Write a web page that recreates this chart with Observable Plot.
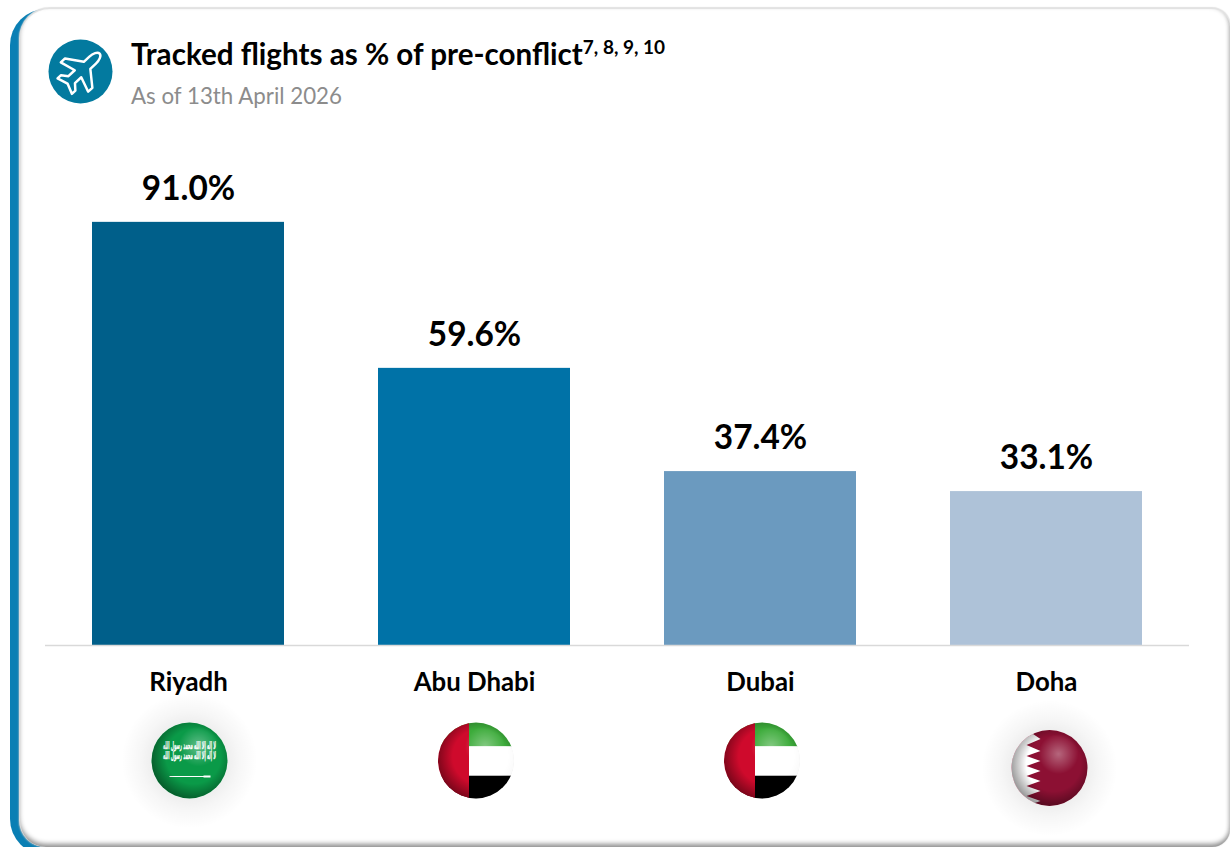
<!DOCTYPE html>
<html>
<head>
<meta charset="utf-8">
<script src="https://cdn.jsdelivr.net/npm/d3@7"></script>
<script src="https://cdn.jsdelivr.net/npm/@observablehq/plot@0.6"></script>
<style>
  html, body { margin: 0; padding: 0; background: #fff; }
  #page { position: relative; width: 1230px; height: 847px; overflow: hidden; font-family: Lato, "Open Sans", sans-serif; }
  #accent { position: absolute; left: 10px; top: 9px; width: 36px; height: 846px; background: #0a7fb4; border-radius: 36px 0 0 36px; }
  #card { position: absolute; left: 20px; top: 9px; width: 1210px; height: 838px; background: #fff; border-radius: 30px 18px 18px 26px;
          box-shadow: 0 -1px 1px 1px #e2e2e2, -1px 0 2px #c4c4c4, inset 0 -4px 5px -1px #8f8f8f, inset -3px 0 4px -2px #d0d0d0; }
  #badge { position: absolute; left: 48px; top: 39px; width: 65px; height: 65px; }
  #title { position: absolute; left: 131px; top: 36px; font-size: 29.6px; font-weight: 700; color: #000; line-height: 36px; white-space: nowrap; }
  #title sup { font-size: 19px; line-height: 0; vertical-align: 11px; }
  #subtitle { position: absolute; left: 131px; top: 82px; font-size: 22.3px; color: #8c8c8c; line-height: 28px; white-space: nowrap; }
  #chart { position: absolute; left: 0; top: 0; }
  #chart svg { background: transparent; display: block; }
</style>
</head>
<body>
<div id="page">
  <div id="accent"></div>
  <div id="card"></div>
  <svg id="badge" viewBox="-33 -33 66 66">
    <circle r="32.5" fill="#037a9f"></circle>
    <path transform="translate(1,-1) rotate(47) scale(0.97)"
      d="M0,-26C3,-26 5,-21 5,-16L5,-8L21,4L21,10L5,5L5,14L11,19L11,24L0,20L-11,24L-11,19L-5,14L-5,5L-21,10L-21,4L-5,-8L-5,-16C-5,-21 -3,-26 0,-26Z"
      fill="none" stroke="#fff" stroke-width="2.6" stroke-linejoin="round"></path>
  </svg>
  <div id="title">Tracked flights as % of pre-conflict<sup>7, 8, 9, 10</sup></div>
  <div id="subtitle">As of 13th April 2026</div>
  <div id="chart"></div>
</div>
<script>
// Share of pre-conflict flight traffic by city
const cities = ["Riyadh", "Abu Dhabi", "Dubai", "Doha"];
const shares = [91.0, 59.6, 37.4, 33.1];
const barColors = ["#005f8a", "#0072a7", "#6b9abf", "#aec2d8"];
const rows = cities.map((city, i) => ({city, share: shares[i], color: barColors[i]}));

// Glossy ball shading shared by every flag badge
const shading = `
  <radialGradient id="glint" gradientUnits="userSpaceOnUse" cx="89" cy="66" r="20">
    <stop offset="0" stop-color="#fff" stop-opacity="0.36"/>
    <stop offset="1" stop-color="#fff" stop-opacity="0"/>
  </radialGradient>
  <radialGradient id="rim" gradientUnits="userSpaceOnUse" cx="84" cy="76" r="44">
    <stop offset="0.62" stop-color="#000" stop-opacity="0"/>
    <stop offset="1" stop-color="#000" stop-opacity="0.42"/>
  </radialGradient>
  <radialGradient id="haloFill" gradientUnits="userSpaceOnUse" cx="80" cy="80" r="68">
    <stop offset="0.5" stop-color="#000" stop-opacity="0.075"/>
    <stop offset="0.72" stop-color="#000" stop-opacity="0.035"/>
    <stop offset="1" stop-color="#000" stop-opacity="0"/>
  </radialGradient>
  <clipPath id="ball"><circle cx="80" cy="80" r="38"/></clipPath>`;

const saudi = `
  <rect x="30" y="30" width="100" height="100" fill="#0a9a48"/>
  <g font-family="DejaVu Sans" font-weight="bold" fill="#fff" stroke="#fff" stroke-width="0.25" text-anchor="middle">
    <text x="80" y="68" font-size="11" textLength="53" lengthAdjust="spacingAndGlyphs">لا إله إلا الله محمد رسول الله</text>
    <text x="80" y="78" font-size="11" textLength="53" lengthAdjust="spacingAndGlyphs">لا إله إلا الله محمد رسول الله</text>
  </g>
  <path d="M60,96H98" stroke="#fff" stroke-width="1.1"/><path d="M94,95h7v2h-7z" fill="#fff"/>`;

const uae = `
  <rect x="30" y="30" width="100" height="36" fill="#3cab3a"/>
  <rect x="30" y="66" width="100" height="29" fill="#fff"/>
  <rect x="30" y="95" width="100" height="35" fill="#000"/>
  <rect x="30" y="30" width="43" height="100" fill="#cf0a2c"/>`;

const qatar = `
  <rect x="30" y="30" width="100" height="100" fill="#8c1033"/>
  <path d="M30,30H62V45L71,51L57,57L71,63L57,68L71,73L57,78L71,83L57,88L71,93L57,98L71,103L57,108L71,113L57,118L66,124V130H30Z" fill="#fff"/>`;

// The white band of the UAE flag stays bright up to the ball's edge
const uaeTop = `<rect x="73" y="66" width="57" height="29" fill="#fff" fill-opacity="0.9"/>`;

// Each flag becomes a small standalone SVG placed by Plot.image
const flagImage = (art, halo, top = "") => "data:image/svg+xml;charset=utf-8," + encodeURIComponent(
  `<svg xmlns="http://www.w3.org/2000/svg" width="160" height="160" viewBox="0 0 160 160"><defs>${shading}</defs>
   ${halo ? '<circle cx="80" cy="80" r="68" fill="url(#haloFill)"/>' : ""}
   <g clip-path="url(#ball)">${art}<circle cx="80" cy="80" r="38" fill="url(#rim)"/>${top}<circle cx="80" cy="80" r="38" fill="url(#glint)"/></g></svg>`);

const flags = [
  {city: "Riyadh", src: flagImage(saudi, true), dx: 1, dy: 115},
  {city: "Abu Dhabi", src: flagImage(uae, false, uaeTop), dx: 1.5, dy: 115},
  {city: "Dubai", src: flagImage(uae, false, uaeTop), dx: 1.5, dy: 115},
  {city: "Doha", src: flagImage(qatar, true), dx: 3, dy: 122.5}
];

const chart = Plot.plot({
  width: 1230,
  height: 847,
  marginLeft: 45,
  marginRight: 41,
  marginTop: 180,
  marginBottom: 202,
  style: {fontFamily: "Lato, 'Open Sans', sans-serif", background: "transparent"},
  x: {domain: cities, paddingInner: 0.3287, paddingOuter: 0.1643, label: null},
  y: {domain: [0, 100], axis: null},
  marks: [
    Plot.barY(rows, {x: "city", y: "share", fill: "color"}),
    Plot.ruleY([0], {stroke: "#d9d9d9", strokeWidth: 1.5}),
    Plot.text(rows, {x: "city", y: "share", text: d => d.share.toFixed(1) + "%", dy: -33.5,
      fontSize: 33.4, fontWeight: 700, fill: "#000"}),
    Plot.axisX({tickSize: 0, tickPadding: 27.5, fontSize: 25.8, fontWeight: 700, fill: "#000", label: null}),
    ...flags.map(f => Plot.image([f], {x: "city", src: "src", frameAnchor: "bottom", width: 160, height: 160, dx: f.dx, dy: f.dy, preserveAspectRatio: "xMidYMid meet"}))
  ]
});
document.getElementById("chart").append(chart);
</script>
</body>
</html>
